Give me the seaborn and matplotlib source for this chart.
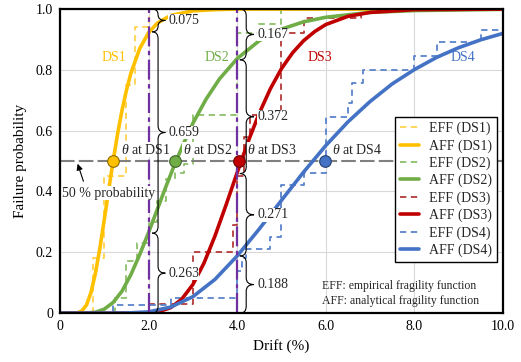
import matplotlib
matplotlib.use("Agg")
import matplotlib.pyplot as plt
import seaborn as sns
from matplotlib.path import Path
from matplotlib.patches import PathPatch

# analytical fragility functions
DS1_AFF_X = [0, 0.4, 0.5, 0.6, 0.7, 0.8, 0.9, 1.0, 1.1, 1.2, 1.3, 1.4, 1.5, 1.6, 1.8, 2.0, 2.2, 2.5, 3.0, 3.5, 4.0, 10.0]
DS1_AFF_Y = [0, 0.001, 0.008, 0.027, 0.067, 0.130, 0.212, 0.306, 0.404, 0.5, 0.588, 0.666, 0.732, 0.788, 0.870, 0.922,
             0.954, 0.979, 0.994, 0.998, 1.0, 1.0]
DS2_AFF_X = [0, 0.6, 0.8, 1.0, 1.2, 1.4, 1.6, 1.8, 2.0, 2.2, 2.4, 2.6, 2.8, 3.0, 3.3, 3.6, 4.0, 4.5, 5.0, 5.5, 6.0,
             7.0, 8.0, 10.0]
DS2_AFF_Y = [0, 0.0003, 0.003, 0.013, 0.035, 0.072, 0.126, 0.192, 0.265, 0.342, 0.419, 0.493, 0.561, 0.624, 0.704,
             0.770, 0.837, 0.896, 0.934, 0.958, 0.973, 0.989, 0.995, 0.999]
DS3_AFF_X = [0, 1.8, 2.0, 2.25, 2.5, 2.75, 3.0, 3.25, 3.5, 3.75, 4.0, 4.25, 4.5, 4.75, 5.0, 5.25, 5.5, 5.75, 6.0,
             6.5, 7.0, 8.0, 10.0]
DS3_AFF_Y = [0, 0.0003, 0.001, 0.006, 0.018, 0.046, 0.094, 0.164, 0.254, 0.356, 0.462, 0.565, 0.658, 0.738, 0.804,
             0.856, 0.896, 0.926, 0.949, 0.976, 0.989, 0.998, 1.0]
DS4_AFF_X = [0, 1.0, 1.5, 2.0, 2.5, 3.0, 3.5, 4.0, 4.5, 5.0, 5.5, 6.0, 6.5, 7.0, 7.5, 8.0, 8.5, 9.0, 9.5, 10.0]
DS4_AFF_Y = [0, 0.0, 0.0004, 0.004, 0.020, 0.054, 0.111, 0.188, 0.277, 0.371, 0.464, 0.551, 0.629, 0.696, 0.754,
             0.801, 0.841, 0.873, 0.899, 0.920]

# empirical fragility functions (step values)
DS1_EFF_X = [0, 0.75, 1.0, 1.5, 1.7, 2.0, 10.0]
DS1_EFF_Y = [0, 0.18, 0.45, 0.75, 0.94, 1.0, 1.0]
DS2_EFF_X = [0, 1.25, 1.5, 1.75, 2.0, 2.2, 2.4, 2.6, 2.8, 3.0, 4.0, 4.5, 5.0, 10.0]
DS2_EFF_Y = [0, 0.05, 0.17, 0.23, 0.30, 0.37, 0.44, 0.46, 0.49, 0.65, 0.92, 0.95, 1.0, 1.0]
DS3_EFF_X = [0, 2.0, 3.0, 3.9, 4.0, 4.15, 4.3, 5.0, 5.5, 6.8, 10.0]
DS3_EFF_Y = [0, 0.03, 0.20, 0.29, 0.45, 0.58, 0.65, 0.92, 0.97, 1.0, 1.0]
DS4_EFF_X = [0, 1.2, 2.5, 4.0, 4.1, 4.2, 4.75, 5.0, 5.5, 6.0, 6.5, 6.6, 6.85, 8.0, 8.5, 9.5, 10.0]
DS4_EFF_Y = [0, 0.027, 0.05, 0.14, 0.18, 0.21, 0.25, 0.42, 0.46, 0.645, 0.69, 0.756, 0.80, 0.845, 0.89, 0.93, 0.93]

THETA = [1.2, 2.6, 4.05, 5.98]
DS_NAMES = ["DS1", "DS2", "DS3", "DS4"]

# probability split at the two drift checks
SPLIT_2 = [0.0, 0.263, 0.925, 1.0]
LABELS_2 = ["0.263", "0.659", "0.075"]
SPLIT_4 = [0.0, 0.188, 0.459, 0.833, 1.0]
LABELS_4 = ["0.188", "0.271", "0.372", "0.167"]

X_TICKS = [0, 2, 4, 6, 8, 10]
X_TICK_LABELS = ["0", "2.0", "4.0", "6.0", "8.0", "10.0"]
Y_TICKS = [0, 0.2, 0.4, 0.6, 0.8, 1.0]
Y_TICK_LABELS = ["0", "0.2", "0.4", "0.6", "0.8", "1.0"]

AFF_COLORS = ["#FFC000", "#70AD47", "#C00000", "#4472C4"]
EFF_COLORS = ["#FFD34F", "#8CC06B", "#B23A3A", "#5B84CC"]
DOT_EDGES = ["#8A6A00", "#3D6325", "#6E0000", "#22406F"]
NAME_POS = [(1.22, 0.842), (3.54, 0.842), (5.87, 0.842), (9.1, 0.842)]


def draw_brace(ax, x0, y0, y1, width):
    ym = (y0 + y1) / 2
    h = min(0.022, (y1 - y0) / 4)
    xs = x0 + width * 0.45
    xt = x0 + width
    verts = [(x0, y0), (xs, y0), (xs, y0 + h),
             (xs, ym - h), (xs, ym), (xt, ym),
             (xs, ym), (xs, ym + h),
             (xs, y1 - h), (xs, y1), (x0, y1)]
    codes = [Path.MOVETO, Path.CURVE3, Path.CURVE3,
             Path.LINETO, Path.CURVE3, Path.CURVE3,
             Path.CURVE3, Path.CURVE3,
             Path.LINETO, Path.CURVE3, Path.CURVE3]
    ax.add_patch(PathPatch(Path(verts, codes), fill=False, lw=0.8, color="black", zorder=6))


def main():
    sns.set_theme(style="white")
    plt.rcParams["font.family"] = ["Liberation Serif", "DejaVu Serif"]
    plt.rcParams["mathtext.fontset"] = "custom"
    plt.rcParams["mathtext.it"] = "Liberation Serif:italic"
    plt.rcParams["mathtext.rm"] = "Liberation Serif"

    fig, ax = plt.subplots(figsize=(5.21, 3.62), dpi=100)
    fig.subplots_adjust(left=0.115, right=0.9655, bottom=0.135, top=0.975)

    effs = [(DS1_EFF_X, DS1_EFF_Y), (DS2_EFF_X, DS2_EFF_Y), (DS3_EFF_X, DS3_EFF_Y), (DS4_EFF_X, DS4_EFF_Y)]
    affs = [(DS1_AFF_X, DS1_AFF_Y), (DS2_AFF_X, DS2_AFF_Y), (DS3_AFF_X, DS3_AFF_Y), (DS4_AFF_X, DS4_AFF_Y)]

    for i, name in enumerate(DS_NAMES):
        ex, ey = effs[i]
        sns.lineplot(x=ex, y=ey, ax=ax, color=EFF_COLORS[i], lw=1.3, dashes=False,
                     drawstyle="steps-post", label=f"EFF ({name})", zorder=2, estimator=None)
        ax.lines[-1].set_dashes((3.5, 2.5))
        axx, ayy = affs[i]
        sns.lineplot(x=axx, y=ayy, ax=ax, color=AFF_COLORS[i], lw=2.6, sort=False,
                     label=f"AFF ({name})", zorder=3, estimator=None)

    # reference lines
    ax.axhline(0.5, color="#808080", lw=1.5, dashes=(7, 2), zorder=2.5)
    for xv in (2.0, 4.0):
        ax.axvline(xv, color="#7030A0", lw=1.6, dashes=(9, 2, 2, 2), zorder=4)

    # median points
    for i, t in enumerate(THETA):
        sns.scatterplot(x=[t], y=[0.5], ax=ax, s=70, color=AFF_COLORS[i], edgecolor=DOT_EDGES[i],
                        linewidth=0.8, zorder=7, legend=False)
        ax.text(t + 0.17, 0.515, rf"$\theta$ at {DS_NAMES[i]}", fontsize=10, ha="left", va="bottom",
                zorder=5, bbox=dict(facecolor="white", edgecolor="none", pad=0.3))
        ax.text(NAME_POS[i][0], NAME_POS[i][1], DS_NAMES[i], color=AFF_COLORS[i], fontsize=10,
                ha="center", va="center", zorder=5)

    # braces
    for k in range(3):
        draw_brace(ax, 2.08, SPLIT_2[k], SPLIT_2[k + 1], 0.3)
        ax.text(2.44, (SPLIT_2[k] + SPLIT_2[k + 1]) / 2, LABELS_2[k], fontsize=10, ha="left", va="center",
                zorder=6, bbox=dict(facecolor="white", edgecolor="none", pad=0.2))
    for k in range(4):
        draw_brace(ax, 4.06, SPLIT_4[k], SPLIT_4[k + 1], 0.32)
        ax.text(4.45, (SPLIT_4[k] + SPLIT_4[k + 1]) / 2, LABELS_4[k], fontsize=10, ha="left", va="center",
                zorder=6, bbox=dict(facecolor="white", edgecolor="none", pad=0.2))

    # 50 % annotation
    ax.text(1.09, 0.395, "50 % probability", fontsize=10, ha="center", va="center", zorder=6,
            bbox=dict(facecolor="white", edgecolor="none", pad=0.3))
    ax.annotate("", xy=(0.38, 0.5), xytext=(0.55, 0.425),
                arrowprops=dict(arrowstyle="-|>", color="black", lw=0.8, mutation_scale=9), zorder=6)

    ax.text(5.91, 0.089, "EFF: empirical fragility function", fontsize=8.5, ha="left", va="center", zorder=6)
    ax.text(5.91, 0.039, "AFF: analytical fragility function", fontsize=8.5, ha="left", va="center", zorder=6)

    leg = ax.legend(loc="upper right", bbox_to_anchor=(0.986, 0.645), fontsize=10, frameon=True,
                    fancybox=False, framealpha=1, edgecolor="black", handlelength=1.4,
                    handletextpad=0.7, labelspacing=0.28, borderpad=0.35, borderaxespad=0)
    leg.get_frame().set_linewidth(1.0)
    leg.set_zorder(8)

    ax.set_xlim(0, 10)
    ax.set_ylim(0, 1)
    ax.set_xticks(X_TICKS)
    ax.set_xticklabels(X_TICK_LABELS)
    ax.set_yticks(Y_TICKS)
    ax.set_yticklabels(Y_TICK_LABELS)
    ax.tick_params(length=0, labelsize=10, pad=5, colors="black")
    ax.grid(True, color="#d9d9d9", lw=0.8)
    ax.set_axisbelow(True)
    for sp in ax.spines.values():
        sp.set_color("black")
        sp.set_linewidth(1.6)
        sp.set_zorder(9)
    ax.set_xlabel("Drift (%)", fontsize=11, color="black", labelpad=4)
    ax.set_ylabel("Failure probability", fontsize=11, color="black", labelpad=6)

    fig.savefig("out.png", dpi=100)


if __name__ == "__main__":
    main()
